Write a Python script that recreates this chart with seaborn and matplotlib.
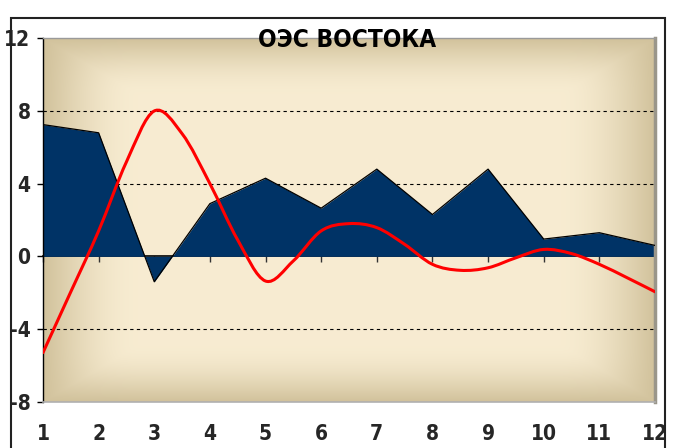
import matplotlib
matplotlib.use('Agg')

import matplotlib.pyplot as plt
import numpy as np
import seaborn as sns
import pandas as pd
from matplotlib.path import Path
from matplotlib.patches import PathPatch, Rectangle

# data
months = list(range(1, 13))
area_vals = [7.25, 6.8, -1.4, 2.9, 4.3, 2.65, 4.8, 2.3, 4.8, 0.95, 1.3, 0.6]

red_x = [1, 1.5, 2, 2.5, 3, 3.5, 4, 4.5, 5, 5.5, 6, 6.5, 7, 7.5, 8, 8.5,
         9, 9.5, 10, 10.5, 11, 11.5, 12]
red_vals = [-5.3, -1.95, 1.4, 5.2, 8.0, 6.75, 4.0, 0.9, -1.36, -0.25, 1.4, 1.8,
            1.58, 0.66, -0.44, -0.77, -0.63, -0.08, 0.38, 0.15, -0.44, -1.18, -1.95]

title = "ОЭС ВОСТОКА"
yticks = [-8, -4, 0, 4, 8, 12]

df = pd.DataFrame({'month': months, 'value': area_vals})

sns.set_style("white")
plt.rcParams['font.family'] = ['DejaVu Sans']
plt.rcParams['font.stretch'] = 'condensed'
plt.rcParams['font.weight'] = 'bold'
plt.rcParams['axes.unicode_minus'] = False


def smooth_path(xs, ys):
    # Catmull-Rom as cubic bezier, like the smoothed line in the spreadsheet
    pts = np.column_stack([xs, ys])
    p = np.vstack([pts[0], pts, pts[-1]])
    verts = [pts[0]]
    codes = [Path.MOVETO]
    for i in range(1, len(p) - 2):
        c1 = p[i] + (p[i + 1] - p[i - 1]) / 6
        c2 = p[i + 1] - (p[i + 2] - p[i]) / 6
        verts += [c1, c2, p[i + 1]]
        codes += [Path.CURVE4] * 3
    return Path(verts, codes)


def background(ax):
    nx, ny = 400, 300
    tx = np.linspace(0, 1, nx)
    ty = np.linspace(0, 1, ny)
    fx = np.clip(np.minimum(tx, 1 - tx) / 0.16, 0, 1)
    fy = np.clip(np.minimum(ty, 1 - ty) / 0.16, 0, 1)
    fx = np.sin(fx * np.pi / 2)[None, :]
    fy = np.sin(fy * np.pi / 2)[:, None]
    L = np.minimum(fx, fy) * 0.6 + fx * fy * 0.4
    dark = np.array([0.82, 0.76, 0.61])
    light = np.array([0.97, 0.925, 0.82])
    img = dark + (light - dark) * L[..., None]
    ax.imshow(img, extent=[1, 12, -8, 12], aspect='auto', zorder=0,
              interpolation='bilinear')


fig = plt.figure(figsize=(6.77, 4.48), dpi=100)
ax = fig.add_axes([0.0635, 0.1034, 0.904, 0.8111])

background(ax)

for yv in [8, 4, -4]:
    ax.axhline(yv, color='black', lw=0.8, ls=(0, (3, 3)), zorder=1)

ax.fill_between(df['month'], df['value'], 0, color='#003366', zorder=2, lw=0)
sns.lineplot(data=df, x='month', y='value', color='black', lw=0.9, ax=ax, zorder=3)

ax.add_patch(PathPatch(smooth_path(red_x, red_vals), fill=False,
                       edgecolor='#ff0000', lw=2.2, zorder=4, capstyle='round'))

ax.set_xlim(1, 12)
ax.set_ylim(-8, 12)
ax.set_xlabel('')
ax.set_ylabel('')
ax.set_yticks(yticks)
ax.set_xticks(months)
ax.tick_params(axis='y', direction='out', length=4, width=1, color='black',
               labelsize=15, pad=5, left=True)
ax.tick_params(axis='x', length=0, labelsize=15, pad=16)
for lab in ax.get_xticklabels() + ax.get_yticklabels():
    lab.set_fontweight('bold')

ax.spines['left'].set_color('black')
ax.spines['left'].set_linewidth(1)
ax.spines['top'].set_color('#9a9a9a')
ax.spines['top'].set_linewidth(1)
ax.spines['bottom'].set_color('#b0b0b0')
ax.spines['bottom'].set_linewidth(1.2)
ax.spines['right'].set_color('#9a968a')
ax.spines['right'].set_linewidth(2.5)

# axis line through zero with tick marks
sec = ax.secondary_xaxis(0.4)
sec.set_xticks(months)
sec.tick_params(direction='out', length=4, width=1, color='#333333', labelbottom=False)
sec.spines['bottom'].set_color('black')
sec.spines['bottom'].set_linewidth(1.2)

fig.text(0.513, 1 - 40 / 448, title, ha='center', va='center', fontsize=17.5,
         fontweight='bold', color='black', zorder=10)

fig.patches.append(Rectangle((11 / 677, -0.05), (665 - 11) / 677, 1.05 - 18 / 448,
                             transform=fig.transFigure, fill=False,
                             edgecolor='#222222', lw=1.5))

fig.savefig('out.png', dpi=100)
